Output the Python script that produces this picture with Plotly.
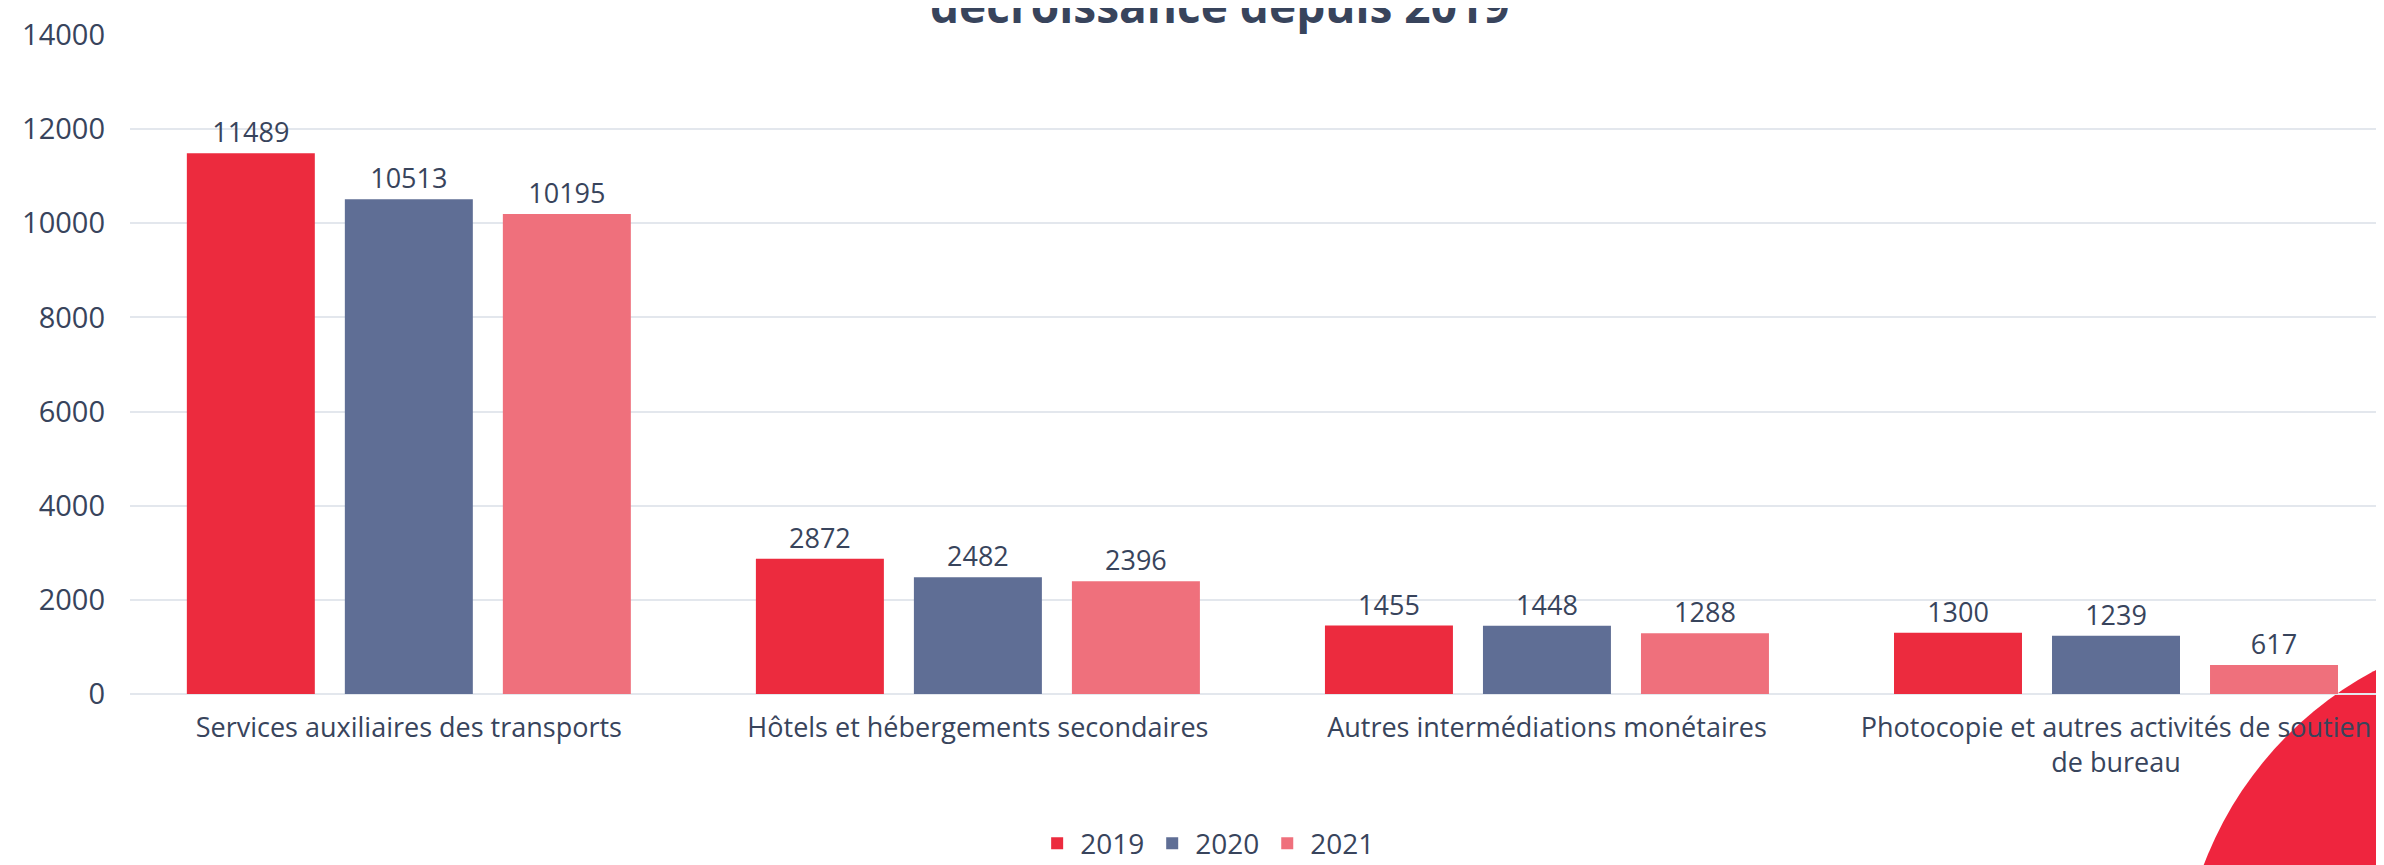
import plotly.graph_objects as go

# Data
categories = ["Services auxiliaires des transports",
              "Hôtels et hébergements secondaires",
              "Autres intermédiations monétaires",
              "Photocopie et autres activités de soutien<br>de bureau"]
years = ["2019", "2020", "2021"]
values_2019 = [11489, 2872, 1455, 1300]
values_2020 = [10513, 2482, 1448, 1239]
values_2021 = [10195, 2396, 1288, 617]
y_ticks = [0, 2000, 4000, 6000, 8000, 10000, 12000, 14000]

colors = {"2019": "#EC2B3E", "2020": "#5F6E95", "2021": "#EF707C"}
text_color = "#38445C"
font_family = "Open Sans"

fig = go.Figure()

for year, vals in zip(years, [values_2019, values_2020, values_2021]):
    fig.add_trace(go.Bar(x=categories,
                         y=vals,
                         name=year,
                         marker=dict(color=colors[year], line=dict(width=0)),
                         text=[str(v) for v in vals],
                         textposition='outside',
                         textfont=dict(size=27, color=text_color, family=font_family),
                         cliponaxis=False,
                         hoverinfo='skip'))

# decorative red disc in the bottom right corner (kept under the axis labels)
fig.add_shape(type="circle",
              xref="paper", yref="paper",
              xsizemode="pixel", ysizemode="pixel",
              xanchor=1, yanchor=0,
              x0=-212, x1=520, y0=-668, y1=66,
              fillcolor="#EF253E",
              line=dict(width=0),
              layer="below")

# title (only the last line is visible, the rest sits above the frame)
fig.add_annotation(text="<b>décroissance depuis 2019</b>",
                   xref="paper", yref="paper",
                   x=0.482, y=1,
                   xanchor="center", yanchor="bottom",
                   yshift=-3,
                   showarrow=False,
                   font=dict(size=46, color=text_color, family=font_family))

fig.update_layout(width=2384,
                  height=865,
                  margin=dict(l=122, r=0, t=27, b=179, autoexpand=False),
                  paper_bgcolor="white",
                  plot_bgcolor="rgba(0,0,0,0)",
                  font=dict(family=font_family, size=28, color=text_color),
                  barmode="group",
                  bargap=0.167,
                  bargroupgap=0.19,
                  xaxis=dict(title="",
                             automargin=False,
                             showgrid=False,
                             showline=False,
                             range=[-0.49, 3.485],
                             tickfont=dict(size=27),
                             ticklabelstandoff=15),
                  yaxis=dict(title="",
                             automargin=False,
                             range=[0, 14000],
                             tickvals=y_ticks,
                             ticktext=[str(t) for t in y_ticks],
                             showgrid=True,
                             gridcolor="#E3E7ED",
                             gridwidth=2,
                             zeroline=True,
                             zerolinecolor="#E3E7ED",
                             zerolinewidth=2,
                             showline=False,
                             tickfont=dict(size=29),
                             ticklabelstandoff=24),
                  legend=dict(orientation='h',
                              xref="container", yref="container",
                              x=0.503, y=0.034,
                              xanchor='center', yanchor='middle',
                              font=dict(size=28),
                              itemwidth=36,
                              itemsizing="constant"),
                  showlegend=True)

fig.write_html("out.html")
